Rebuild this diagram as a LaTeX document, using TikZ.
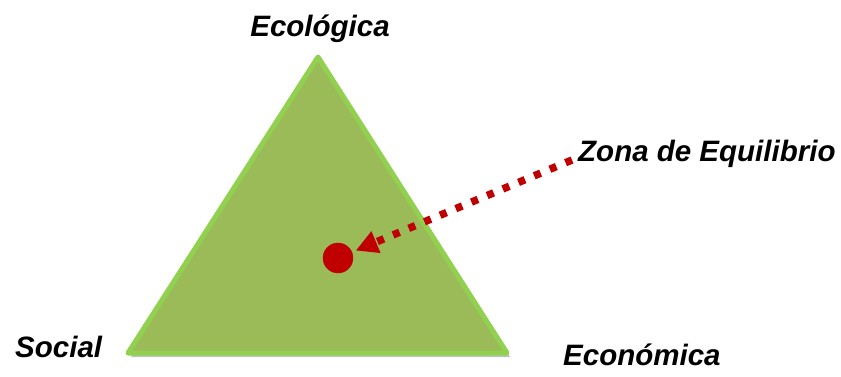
\documentclass[tikz,border=0pt]{standalone}
\usepackage{fontspec}
\setmainfont{Liberation Sans}
\usepackage{xcolor}
\usetikzlibrary{arrows.meta,shadows}
\definecolor{trifill}{HTML}{9BBB59}
\definecolor{triline}{HTML}{92D050}
\definecolor{eqred}{HTML}{C00000}

\begin{document}
\begin{tikzpicture}[
    x=1pt, y=-1pt,
    lbl/.style={font=\fontsize{29.5pt}{34pt}\selectfont\bfseries\itshape, inner sep=0pt},
    triface/.style={fill=trifill, draw=triline, line width=5pt, line join=round,
        drop shadow={shadow xshift=3pt, shadow yshift=-4pt, opacity=0.4, fill=black!60}},
    eqdot/.style={circle, fill=eqred, draw=eqred, inner sep=0pt, minimum size=30pt},
    zonearrow/.style={draw=eqred, line width=7.5pt, dash pattern=on 7pt off 10pt,
        -{Triangle[length=22pt, width=22pt, fill=eqred]}, shorten >=4pt}
]
\useasboundingbox (0,0) rectangle (841,377);
% triangle corners
\coordinate (top) at (318,57);
\coordinate (left) at (128,353);
\coordinate (right) at (507,353);
\path[triface] (top) -- (right) -- (left) -- cycle;
% labels
\node[lbl, anchor=base] (ecologica) at (320,37) {Ecológica};
\node[lbl, anchor=base west] (social) at (15,357) {Social};
\node[lbl, anchor=base west] (economica) at (563,365) {Económica};
\node[lbl, anchor=base west] (zona) at (578,162) {Zona de Equilibrio};
% equilibrium point
\node[eqdot] (equilibrio) at (338,258) {};
\coordinate (zonastart) at (572,160);
\draw[zonearrow] (zonastart) -- (equilibrio);
\end{tikzpicture}
\end{document}
